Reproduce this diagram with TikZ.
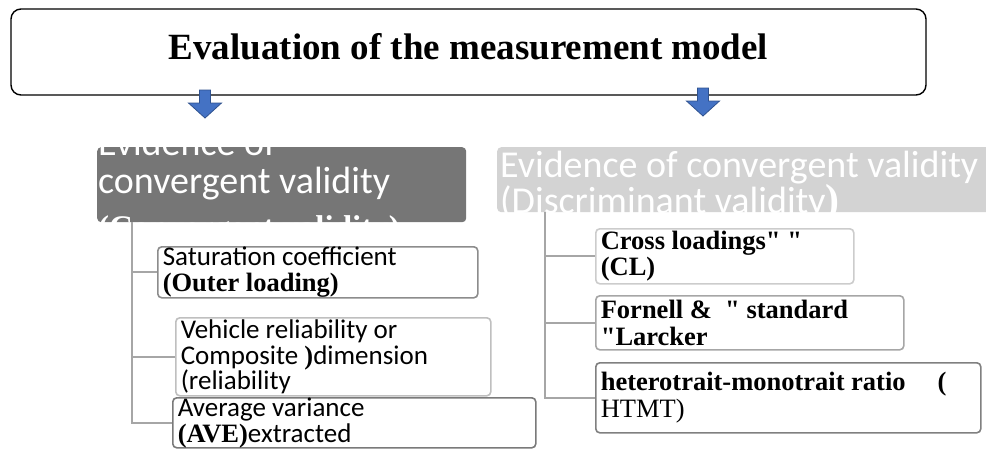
\documentclass[tikz,border=0pt]{standalone}
\usepackage{fontspec}
\setmainfont{Liberation Serif}[Ligatures=TeXOff]
\newfontfamily\calibfont{Carlito}
\usetikzlibrary{shapes}

\definecolor{darkhdr}{RGB}{118,118,118}
\definecolor{lighthdr}{RGB}{211,211,211}
\definecolor{arrowblue}{RGB}{68,114,196}
\definecolor{arrowedge}{RGB}{47,82,143}
\definecolor{conngray}{RGB}{166,166,166}

\newcommand\sansleaf{\calibfont\fontsize{27}{25.5}\selectfont}
\newcommand\serifleaf{\rmfamily\bfseries\fontsize{26.5}{26.5}\selectfont}
\newcommand\bsr[1]{{\rmfamily\bfseries\fontsize{26.5}{25.5}\selectfont #1}}

\begin{document}
\begin{tikzpicture}[
                    x = 1pt, y = -1pt,
                    align = flush left,
                    title/.style = {draw, rounded corners = 10pt, line width = 1.4pt,
                                    minimum width = 915pt, minimum height = 86pt,
                                    font = \bfseries\fontsize{37}{37}\selectfont, text depth = 11pt},
                    hdr/.style = {rounded corners = 4pt, anchor = north west, inner sep = 0pt},
                    hdrtext/.style = {anchor = north west, inner sep = 0pt, text = white,
                                      font = \calibfont\fontsize{38}{38}\selectfont},
                    leaf/.style = {draw, rounded corners = 4pt, line width = 1.6pt,
                                   anchor = north west, inner xsep = 5pt, inner ysep = 0pt},
                    conn/.style = {draw = conngray, line width = 2pt},
                    downarrow/.pic = {\draw[arrowedge, fill = arrowblue, line width = 0.8pt]
                                      (-5.5,0) -- (5.5,0) -- (5.5,13) -- (16.5,13) -- (0,28)
                                      -- (-16.5,13) -- (-5.5,13) -- cycle;}]
    \useasboundingbox (0,0) rectangle (986,448);

    \node[title] (top) at (468.5,52) {Evaluation of the measurement model};
    \pic at (205,90) {downarrow};
    \pic at (703,88) {downarrow};

    \node[hdr, fill = darkhdr, minimum width = 369pt, minimum height = 75pt]  (lhead) at (97,147) {};
    \node[hdr, fill = lighthdr, minimum width = 495pt, minimum height = 65pt] (rhead) at (497,147) {};
    \begin{scope}
        \clip[rounded corners = 4pt] (lhead.north west) rectangle (lhead.south east);
        \node[hdrtext] (ltext) at (98,128.5)
            {Evidence of\\convergent validity\\[7pt]{\rmfamily\bfseries\fontsize{33}{38}\selectfont (Convergent validity)}};
    \end{scope}
    \begin{scope}
        \clip[rounded corners = 4pt] (rhead.north west) rectangle (rhead.south east);
        \node[hdrtext, font = \calibfont\fontsize{38}{34}\selectfont] (rtext) at (500,150.5)
            {Evidence of convergent validity\\(Discriminant validity{\rmfamily\bfseries\fontsize{42}{34}\selectfont )}};
    \end{scope}

    \node[leaf, draw = black!45, minimum width = 320pt, minimum height = 51pt, text width = 310pt, font = \sansleaf] (l1) at (157,246)
        {Saturation coefficient\\\bsr{(Outer loading)}};
    \node[leaf, draw = black!25, minimum width = 315pt, minimum height = 78pt, text width = 305pt, font = \sansleaf] (l2) at (175,317)
        {Vehicle reliability or\\Composite \bsr{)}dimension\\(reliability};
    \node[leaf, draw = black!52, minimum width = 363pt, minimum height = 50pt, text width = 353pt, font = \sansleaf] (l3) at (172,397)
        {Average variance\\\bsr{(AVE)}extracted};

    \node[leaf, draw = black!20, minimum width = 258pt, minimum height = 55pt, text width = 248pt, font = \serifleaf] (r1) at (595,228)
        {Cross loadings" "\\(CL)};
    \node[leaf, draw = black!35, minimum width = 308pt, minimum height = 54pt, text width = 298pt, font = \serifleaf] (r2) at (595,295)
        {Fornell \&~~" standard\\"Larcker};
    \node[leaf, draw = black!50, minimum width = 385pt, minimum height = 70pt, text width = 375pt, font = \serifleaf] (r3) at (595,362)
        {heterotrait-monotrait ratio\hspace{32pt}(\\\mdseries HTMT)};

    \coordinate (ltrunk) at (132,222);
    \coordinate (rtrunk) at (545,212);
    \foreach \n in {l1,l2,l3}
        \draw[conn] (ltrunk) |- (\n.west);
    \foreach \n in {r1,r2,r3}
        \draw[conn] (rtrunk) |- (\n.west);
\end{tikzpicture}
\end{document}
